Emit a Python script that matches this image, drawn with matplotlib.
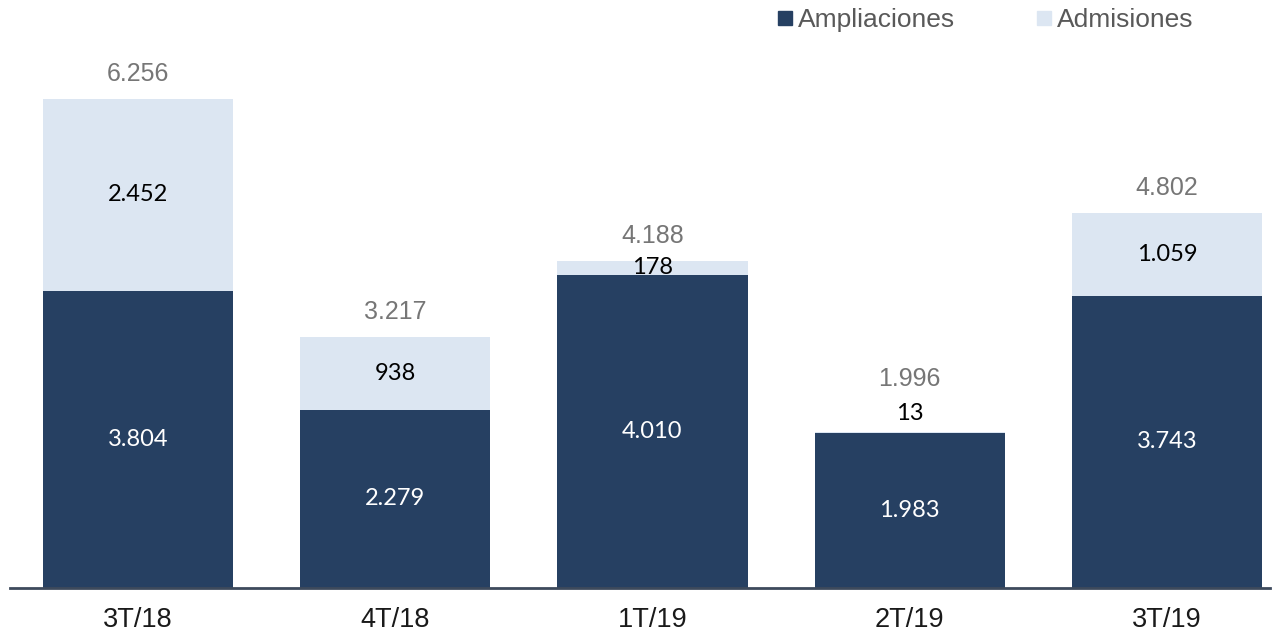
import numpy as np
import matplotlib.pyplot as plt
from matplotlib.lines import Line2D

# Data
quarters = ['3T/18', '4T/18', '1T/19', '2T/19', '3T/19']
ampliaciones = [3804, 2279, 4010, 1983, 3743]
admisiones = [2452, 938, 178, 13, 1059]
totales = [6256, 3217, 4188, 1996, 4802]

dark = '#264062'
light = '#dce6f2'
grey = '#767676'

fig = plt.figure(figsize=(12.8, 6.31), dpi=100)
ax = fig.add_axes([10 / 1280, 43 / 631, 1260 / 1280, 547 / 631])

x = np.arange(len(quarters))
w = 0.74
ax.bar(x, ampliaciones, width=w, color=dark)
ax.bar(x, admisiones, width=w, bottom=ampliaciones, color=light)

lab_font = ['Lato', 'DejaVu Sans']
for i in range(len(quarters)):
    a, b, t = ampliaciones[i], admisiones[i], totales[i]
    ax.text(x[i], a / 2, f'{a:,}'.replace(',', '.'), ha='center', va='center',
            color='white', fontsize=17, family=lab_font)
    if b < 50:
        # small segment: label above the bar, total shifted up
        ax.annotate(f'{b:,}'.replace(',', '.'), (x[i], a + b), xytext=(0, 13.5),
                    textcoords='offset points', ha='center', va='center',
                    color='black', fontsize=17, family=lab_font)
        off = 39
    else:
        ax.text(x[i], a + b / 2, f'{b:,}'.replace(',', '.'), ha='center', va='center',
                color='black', fontsize=17, family=lab_font)
        off = 19
    ax.annotate(f'{t:,}'.replace(',', '.'), (x[i], t), xytext=(0, off - 1),
                textcoords='offset points', ha='center', va='center',
                color=grey, fontsize=18, family='Liberation Sans')

ax.set_xlim(-0.497, 4.40)
ax.set_ylim(0, 7000)
ax.set_xticks(x)
ax.set_xticklabels(quarters, fontsize=19.5, family='Liberation Sans', color='#1a1a1a')
ax.tick_params(axis='x', length=0, pad=13.5)
ax.set_yticks([])
for s in ['top', 'right', 'left']:
    ax.spines[s].set_visible(False)
ax.spines['bottom'].set_color('#3d4a5c')
ax.spines['bottom'].set_linewidth(2)

handles = [Line2D([], [], marker='s', linestyle='none', markersize=10.5, color=dark),
           Line2D([], [], marker='s', linestyle='none', markersize=10.5, color=light)]
leg = fig.legend(handles, ['Ampliaciones', 'Admisiones'], ncol=2, frameon=False,
                 loc='center right', bbox_to_anchor=(1212 / 1280, 1 - 20 / 631),
                 prop={'family': 'Liberation Sans', 'size': 19},
                 handletextpad=0.0, columnspacing=2.85, handlelength=1.0,
                 borderpad=0.2)
for txt in leg.get_texts():
    txt.set_color('#595959')

fig.savefig('out.png', dpi=100)
